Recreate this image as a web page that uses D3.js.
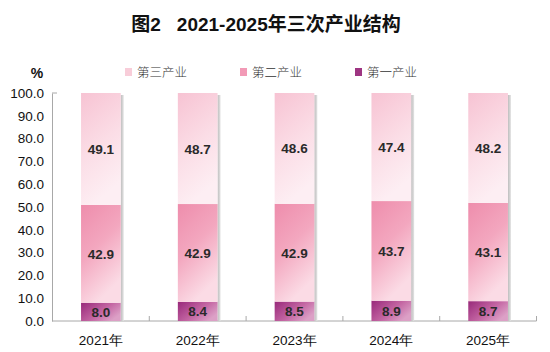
<!DOCTYPE html>
<html>
<head>
<meta charset="utf-8">
<script src="https://cdn.jsdelivr.net/npm/d3@7"></script>
<style>
  body { margin: 0; background: #fff; }
  svg { display: block; font-family: "Liberation Sans", Arial, sans-serif; }
</style>
</head>
<body>
<svg id="chart" width="550" height="352"></svg>
<script>
const years = ["2021年", "2022年", "2023年", "2024年", "2025年"];
const primary = [8.0, 8.4, 8.5, 8.9, 8.7];
const secondary = [42.9, 42.9, 42.9, 43.7, 43.1];
const tertiary = [49.1, 48.7, 48.6, 47.4, 48.2];
const yTicks = [0, 10, 20, 30, 40, 50, 60, 70, 80, 90, 100];
const seriesNames = ["第一产业", "第二产业", "第三产业"];

const W = 550, H = 352;
const margin = { top: 93, right: 13, bottom: 31, left: 52 };
const svg = d3.select("#chart");

// gradients
const defs = svg.append("defs");
function grad(id, stops, x2, y2) {
  const g = defs.append("linearGradient").attr("id", id)
    .attr("x1", 0).attr("y1", 0).attr("x2", x2).attr("y2", y2);
  stops.forEach(s => g.append("stop").attr("offset", s[0]).attr("stop-color", s[1]));
}
grad("g3", [[0, "#f7c3d3"], [0.55, "#fbdde6"], [1, "#fdeef3"]], 0.3, 1);
grad("g2", [[0, "#ee8dac"], [0.5, "#f3a7bf"], [1, "#fbdbe5"]], 0.4, 1);
grad("g1", [[0, "#98297a"], [0.6, "#c466a3"], [1, "#dca0c6"]], 1, 0.6);
grad("shadow", [[0, "#bdbdbd"], [1, "#e4e4e4"]], 1, 0);
const fills = ["url(#g1)", "url(#g2)", "url(#g3)"];
const legendFills = ["#9e3582", "#f29ab6", "#f8cdd9"];

const title = svg.append("text").attr("x", 266).attr("y", 31).attr("text-anchor", "middle")
  .style("font-family", "'Liberation Sans', 'Noto Sans CJK SC', sans-serif").style("font-weight", "700")
  .style("font-size", "19px").style("fill", "#111");
title.append("tspan").text("图2");
title.append("tspan").attr("dx", 16).text("2021-2025年三次产业结构");

const x = d3.scaleBand().domain(years).range([margin.left, W - margin.right]).paddingInner(0.59).paddingOuter(0.3);
const y = d3.scaleLinear().domain([0, 100]).range([H - margin.bottom, margin.top]);

const stackData = years.map((yr, i) => ({ year: yr, p: primary[i], s: secondary[i], t: tertiary[i] }));
const stack = d3.stack().keys(["p", "s", "t"])(stackData);

// y axis
const yAxis = svg.append("g").attr("transform", `translate(${margin.left},0)`)
  .call(d3.axisLeft(y).tickValues(yTicks).tickSize(0).tickPadding(8).tickFormat(d3.format(".1f")));
yAxis.select(".domain").attr("stroke", "#a8a8a8");
yAxis.selectAll("text").style("font-size", "13.5px").style("fill", "#111");
svg.append("line").attr("x1", margin.left).attr("x2", margin.left + 5)
  .attr("y1", y(100)).attr("y2", y(100)).attr("stroke", "#a8a8a8");

svg.append("text").attr("x", 37).attr("y", 78).attr("text-anchor", "middle")
  .style("font-size", "14px").style("font-weight", "700").style("fill", "#111").text("%");

// x axis
const step = x.step();
const bounds = years.map((yr, i) => x(yr) - (step - x.bandwidth()) / 2);
const xAxisG = svg.append("g");
xAxisG.append("line").attr("x1", margin.left).attr("x2", bounds[bounds.length - 1] + step)
  .attr("y1", y(0)).attr("y2", y(0)).attr("stroke", "#a8a8a8");
bounds.slice(1).concat([bounds[bounds.length - 1] + step]).forEach(bx => {
  xAxisG.append("line").attr("x1", bx).attr("x2", bx).attr("y1", y(0)).attr("y2", y(0) - 5).attr("stroke", "#a8a8a8");
});
xAxisG.selectAll("text.xl").data(years).enter().append("text").attr("class", "xl")
  .attr("x", d => x(d) + x.bandwidth() / 2).attr("y", y(0) + 24).attr("text-anchor", "middle")
  .style("font-size", "13.5px").style("fill", "#111")
  .text(d => d);

// shadows
svg.selectAll("rect.shadow").data(stackData).enter().append("rect").attr("class", "shadow")
  .attr("x", d => x(d.year) + x.bandwidth()).attr("width", 3)
  .attr("y", y(100) + 2).attr("height", y(0) - y(100) - 2)
  .attr("fill", "url(#shadow)");

// bars
stack.forEach((layer, li) => {
  const g = svg.append("g");
  g.selectAll("rect").data(layer).enter().append("rect")
    .attr("x", d => x(d.data.year)).attr("width", x.bandwidth())
    .attr("y", d => y(d[1])).attr("height", d => y(d[0]) - y(d[1]))
    .attr("fill", fills[li]);
  g.selectAll("text").data(layer).enter().append("text")
    .attr("x", d => x(d.data.year) + x.bandwidth() / 2)
    .attr("y", d => y((d[0] + d[1]) / 2) + 5)
    .attr("text-anchor", "middle")
    .style("font-size", "13.5px").style("font-weight", "700").style("fill", "#2a2a2a")
    .text(d => (d[1] - d[0]).toFixed(1));
});

// legend
const legendItems = [
  { name: seriesNames[2], fill: legendFills[2], x: 125 },
  { name: seriesNames[1], fill: legendFills[1], x: 240 },
  { name: seriesNames[0], fill: legendFills[0], x: 355 }
];
const lg = svg.selectAll("g.legend").data(legendItems).enter().append("g").attr("class", "legend")
  .attr("transform", d => `translate(${d.x},73)`);
lg.append("rect").attr("x", 0).attr("y", -5).attr("width", 7).attr("height", 8).attr("fill", d => d.fill);
lg.append("text").attr("x", 12).attr("y", 4)
  .style("font-family", "'Noto Sans CJK SC', sans-serif").style("font-weight", "300")
  .style("font-size", "12.5px").style("fill", "#333").text(d => d.name);
</script>
</body>
</html>
